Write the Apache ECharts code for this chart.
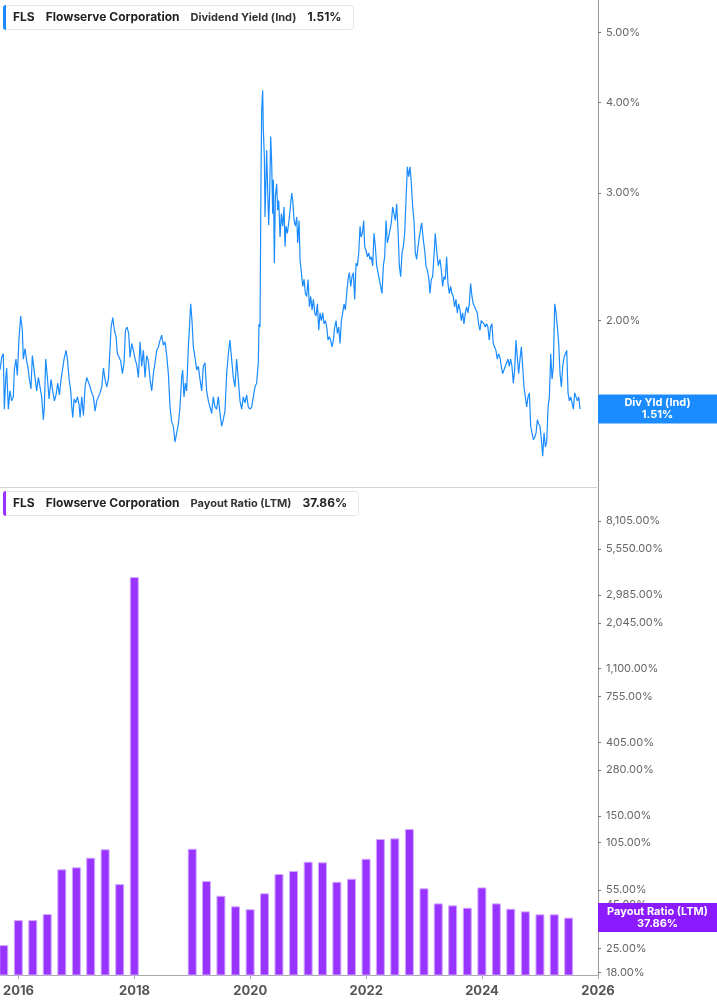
<!DOCTYPE html>
<html><head><meta charset="utf-8">
<script src="https://cdn.jsdelivr.net/npm/echarts@6/dist/echarts.min.js"></script>
<style>html,body{margin:0;padding:0;background:#fff}#c{width:717px;height:1005px}</style>
</head><body><div id="c"></div>
<script>
const ticker = 'FLS', company = 'Flowserve Corporation';
const divLabel = 'Dividend Yield (Ind)', divShort = 'Div Yld (Ind)', divCurrent = 1.51;
const payLabel = 'Payout Ratio (LTM)', payCurrent = 37.86;

const divYears = [
2015.690,2015.719,2015.747,2015.765,2015.788,2015.805,2015.834,2015.862,2015.891,2015.920,
2015.937,2015.966,2015.989,2016.018,2016.046,2016.075,2016.092,2016.121,2016.150,2016.178,
2016.196,2016.224,2016.247,2016.265,2016.293,2016.322,2016.351,2016.380,2016.408,2016.437,
2016.454,2016.477,2016.506,2016.535,2016.569,2016.598,2016.627,2016.655,2016.684,2016.713,
2016.742,2016.770,2016.793,2016.828,2016.851,2016.880,2016.908,2016.926,2016.943,2016.966,
2016.995,2017.023,2017.052,2017.069,2017.098,2017.127,2017.155,2017.184,2017.213,2017.242,
2017.270,2017.299,2017.328,2017.357,2017.385,2017.414,2017.443,2017.472,2017.500,2017.529,
2017.558,2017.587,2017.604,2017.633,2017.661,2017.690,2017.713,2017.742,2017.770,2017.799,
2017.828,2017.851,2017.880,2017.908,2017.931,2017.960,2017.989,2018.018,2018.046,2018.075,
2018.104,2018.132,2018.161,2018.190,2018.219,2018.247,2018.276,2018.305,2018.334,2018.362,
2018.391,2018.420,2018.449,2018.477,2018.506,2018.535,2018.564,2018.592,2018.621,2018.650,
2018.678,2018.707,2018.736,2018.765,2018.793,2018.822,2018.839,2018.862,2018.885,2018.908,
2018.937,2018.954,2018.977,2019.000,2019.023,2019.052,2019.081,2019.110,2019.138,2019.167,
2019.196,2019.224,2019.253,2019.282,2019.311,2019.339,2019.368,2019.397,2019.426,2019.454,
2019.483,2019.512,2019.540,2019.569,2019.598,2019.627,2019.655,2019.684,2019.713,2019.742,
2019.770,2019.799,2019.828,2019.857,2019.885,2019.914,2019.943,2019.972,2020.000,2020.029,
2020.058,2020.087,2020.115,2020.144,
2020.156,2020.173,2020.184,2020.190,2020.202,2020.219,2020.230,2020.248,2020.259,2020.276,
2020.288,2020.305,2020.322,2020.339,2020.357,2020.374,2020.391,2020.403,2020.420,2020.437,
2020.460,2020.477,2020.495,2020.518,2020.541,2020.564,2020.587,2020.604,2020.621,2020.644,
2020.667,2020.690,2020.719,2020.736,2020.759,2020.782,2020.805,2020.822,2020.845,2020.862,
2020.885,2020.908,2020.931,2020.954,2020.977,2021.000,2021.023,2021.046,2021.069,2021.092,
2021.115,2021.138,2021.161,2021.184,2021.207,2021.230,2021.253,2021.276,2021.299,2021.322,
2021.345,2021.368,2021.391,2021.414,2021.437,2021.460,2021.483,2021.506,2021.529,2021.552,
2021.575,2021.598,2021.621,2021.644,2021.667,2021.690,2021.713,2021.736,2021.759,2021.782,
2021.805,2021.828,2021.851,2021.874,2021.897,2021.914,2021.937,2021.960,2021.977,2022.000,
2022.023,2022.046,2022.069,2022.092,2022.115,2022.138,2022.161,2022.184,2022.207,2022.230,
2022.253,2022.276,2022.299,2022.322,2022.345,2022.368,2022.391,2022.414,2022.437,2022.460,
2022.483,2022.506,2022.529,2022.552,2022.575,2022.598,2022.621,2022.644,2022.667,2022.690,
2022.713,2022.736,2022.759,2022.782,2022.805,2022.828,2022.851,2022.874,2022.897,2022.920,
2022.931,2022.960,2022.988,2023.017,2023.034,2023.057,2023.086,2023.103,2023.126,2023.149,
2023.172,2023.195,2023.218,2023.247,2023.276,2023.299,2023.322,2023.345,2023.368,2023.391,
2023.414,2023.437,2023.460,2023.483,2023.506,2023.529,2023.552,2023.575,2023.598,2023.621,
2023.644,2023.667,2023.690,2023.713,2023.736,2023.759,2023.782,2023.805,2023.828,2023.851,
2023.874,2023.897,2023.920,2023.943,2023.966,2023.988,2024.011,2024.034,2024.057,2024.080,
2024.103,2024.126,2024.149,2024.172,2024.195,2024.218,2024.241,2024.264,2024.287,2024.310,
2024.333,2024.356,2024.379,2024.402,2024.425,2024.448,2024.471,2024.494,2024.517,2024.540,
2024.563,2024.586,2024.609,2024.632,2024.655,2024.678,2024.701,2024.724,2024.747,2024.770,
2024.793,2024.816,2024.839,2024.862,2024.885,2024.908,2024.931,2024.954,2024.977,2025.000,
2025.023,2025.046,2025.069,2025.092,2025.115,2025.138,2025.161,2025.184,2025.207,2025.230,
2025.253,2025.276,2025.299,2025.322,2025.345,2025.368,2025.391,2025.414,2025.437,2025.460,
2025.483,2025.506,2025.529,2025.552,2025.575,2025.598,2025.621,2025.644,2025.667,2025.690
];
const divValues = [
1.71,1.78,1.80,1.51,1.66,1.72,1.51,1.60,1.55,1.57,
1.71,1.77,1.68,1.89,2.03,1.94,1.77,1.83,1.76,1.71,
1.66,1.61,1.79,1.78,1.67,1.60,1.67,1.68,1.57,1.46,
1.52,1.77,1.67,1.56,1.66,1.60,1.55,1.58,1.64,1.58,
1.66,1.72,1.77,1.82,1.77,1.66,1.60,1.52,1.47,1.56,
1.54,1.57,1.53,1.47,1.57,1.48,1.62,1.67,1.66,1.62,
1.59,1.57,1.50,1.55,1.55,1.59,1.62,1.72,1.66,1.62,
1.66,1.84,1.96,2.02,1.94,1.90,1.80,1.78,1.76,1.69,
1.75,1.94,1.96,1.92,1.78,1.86,1.82,1.77,1.74,1.67,
1.87,1.73,1.82,1.67,1.79,1.76,1.66,1.60,1.69,1.75,
1.82,1.84,1.88,1.91,1.85,1.87,1.79,1.69,1.52,1.45,
1.43,1.36,1.40,1.44,1.52,1.67,1.71,1.57,1.64,1.60,
1.84,1.94,2.11,2.00,1.84,1.78,1.71,1.73,1.66,1.60,
1.73,1.75,1.60,1.55,1.52,1.49,1.57,1.52,1.51,1.57,
1.49,1.43,1.46,1.50,1.69,1.80,1.88,1.77,1.67,1.62,
1.77,1.66,1.55,1.51,1.57,1.54,1.58,1.52,1.51,1.52,
1.57,1.62,1.64,1.75,
1.98,1.96,2.64,3.13,3.91,4.16,3.67,3.37,2.78,3.13,
3.44,3.03,2.71,3.00,3.59,3.30,2.81,3.13,2.40,2.97,
3.09,2.84,2.93,2.61,2.81,2.70,2.87,2.53,2.70,2.64,
2.73,2.84,3.00,2.93,2.75,2.70,2.78,2.56,2.75,2.43,
2.33,2.23,2.28,2.18,2.16,2.28,2.09,2.16,2.07,2.14,
2.05,2.03,2.11,1.94,2.05,2.00,2.05,1.98,2.00,1.96,
1.88,1.90,1.88,1.84,1.88,1.96,2.00,1.92,1.96,1.86,
2.00,2.05,2.11,2.07,2.18,2.28,2.33,2.23,2.30,2.33,
2.14,2.40,2.38,2.48,2.70,2.61,2.64,2.75,2.53,2.50,
2.45,2.48,2.43,2.45,2.38,2.64,2.53,2.38,2.33,2.28,
2.23,2.18,2.38,2.45,2.75,2.56,2.61,2.67,2.73,2.87,
2.81,2.75,2.90,2.67,2.38,2.30,2.48,2.53,2.64,2.93,
3.26,3.16,3.26,3.09,2.87,2.75,2.48,2.43,2.53,2.61,
2.61,2.73,2.59,2.48,2.38,2.35,2.28,2.18,2.28,2.30,
2.45,2.64,2.50,2.38,2.43,2.35,2.23,2.30,2.28,2.45,
2.25,2.18,2.23,2.18,2.16,2.09,2.14,2.05,2.11,2.07,
2.00,2.05,1.98,2.05,2.09,2.05,2.11,2.25,2.16,2.11,
2.09,2.07,2.05,1.98,1.94,2.00,2.00,1.98,1.96,1.98,
1.96,1.88,1.96,1.98,1.86,1.84,1.82,1.77,1.80,1.78,
1.73,1.69,1.71,1.73,1.75,1.77,1.73,1.77,1.73,1.64,
1.71,1.88,1.78,1.69,1.77,1.84,1.73,1.62,1.57,1.52,
1.57,1.59,1.43,1.40,1.37,1.38,1.40,1.46,1.44,1.43,
1.37,1.30,1.40,1.34,1.36,1.52,1.57,1.80,1.66,1.73,
2.11,2.05,1.96,1.86,1.69,1.62,1.73,1.78,1.80,1.82,
1.59,1.55,1.57,1.54,1.51,1.59,1.60,1.55,1.57,1.51
];
const payDates = ['2015-09-30','2015-12-31','2016-03-31','2016-06-30','2016-09-30','2016-12-31','2017-03-31','2017-06-30','2017-09-30','2017-12-31','2018-03-31','2018-06-30','2018-09-30','2018-12-31','2019-03-31','2019-06-30','2019-09-30','2019-12-31','2020-03-31','2020-06-30','2020-09-30','2020-12-31','2021-03-31','2021-06-30','2021-09-30','2021-12-31','2022-03-31','2022-06-30','2022-09-30','2022-12-31','2023-03-31','2023-06-30','2023-09-30','2023-12-31','2024-03-31','2024-06-30','2024-09-30','2024-12-31','2025-03-31','2025-06-30'];
const payValues = [26.1,36.6,36.6,39.7,72.8,74.8,85.2,95.4,59.6,3806,null,null,null,96.2,62.1,50.9,44.1,42.4,52.6,68.3,71.1,80.7,80.0,61.5,64.1,84.0,109.7,110.7,125.6,56.3,45.9,44.7,43.3,57.0,45.9,42.7,41.2,39.6,39.6,37.86];
const yearTicks = [2016,2018,2020,2022,2024,2026];
const divTicks = [2,3,4,5];
const payTicks = [18,25,45,55,105,150,280,405,755,1100,2045,2985,5550,8105];

function yearToTime(y){
  const yr = Math.floor(y);
  const s = new Date(yr,0,1).getTime(), e = new Date(yr+1,0,1).getTime();
  return s + (y-yr)*(e-s);
}
function dateToTime(str){
  const p = str.split('-').map(Number);
  return new Date(p[0], p[1]-1, p[2]).getTime();
}
const FONT = 'Inter';
const BLUE = '#1a8cff', PURPLE = '#9933ff';
const tMin = yearToTime(2015.69), tMax = yearToTime(2026);
const yearTickTimes = yearTicks.map(y => new Date(y,0,1).getTime());

function legendTitle(top, color, label, valText){
  return {
    left: 3, top: top, padding: [0, 12, 0, 0],
    backgroundColor: '#fff', borderColor: '#e4e4e4', borderWidth: 1, borderRadius: 3,
    text: `{s|}{g|}{b|${ticker}}{w|}{b|${company}}{w|}{n|${label}}{w|}{b|${valText}}`,
    textStyle: { rich: {
      s: { width: 3, height: 25, backgroundColor: color, borderRadius: [3,0,0,3] },
      g: { width: 7 },
      w: { width: 11 },
      b: { fontFamily: FONT, fontSize: 12, fontWeight: 'bold', color: '#222' },
      n: { fontFamily: FONT, fontSize: 11, color: '#333' }
    } }
  };
}
function fmtPct(v){
  return Number(v).toLocaleString('en-US', {minimumFractionDigits: 2, maximumFractionDigits: 2}) + '%';
}
function endLabel(text, bg){
  return {
    show: true, position: 'end', distance: 59.5, align: 'center', verticalAlign: 'middle',
    formatter: text, color: '#fff', opacity: 1, fontFamily: FONT, fontWeight: 'bold', fontSize: 11, lineHeight: 12,
    backgroundColor: bg, width: 119, padding: [3, 0, 2, 0]
  };
}

const chart = echarts.init(document.getElementById('c'));
chart.setOption({
  animation: false,
  textStyle: { fontFamily: FONT },
  title: [
    legendTitle(5, BLUE, divLabel, divCurrent.toFixed(2) + '%'),
    legendTitle(491, PURPLE, payLabel, payCurrent.toFixed(2) + '%')
  ],
  grid: [
    { left: 0, right: 119, top: 0, height: 487 },
    { left: 0, right: 119, top: 488, height: 487 }
  ],
  xAxis: [
    { type: 'value', gridIndex: 0, min: tMin, max: tMax, scale: true,
      axisLine: { show: true, onZero: false, lineStyle: { color: '#d4d4d4' } }, axisTick: { show: false },
      axisLabel: { show: false }, splitLine: { show: false } },
    { type: 'value', gridIndex: 1, min: tMin, max: tMax, scale: true,
      axisLine: { show: true, onZero: false, lineStyle: { color: '#aaa' } },
      axisTick: { show: true, length: 4, lineStyle: { color: '#aaa' }, customValues: yearTickTimes },
      axisLabel: { customValues: yearTickTimes, formatter: v => String(new Date(v).getFullYear()),
        color: '#555', fontWeight: 'bold', fontSize: 13, margin: 10, fontFamily: FONT },
      splitLine: { show: false } }
  ],
  yAxis: [
    { type: 'log', gridIndex: 0, position: 'right', min: 1.179, max: 5.54,
      axisLine: { show: true, lineStyle: { color: '#999' } },
      axisTick: { show: true, length: 3, customValues: divTicks, lineStyle: { color: '#777' } },
      axisLabel: { customValues: divTicks, formatter: v => fmtPct(v), color: '#666', fontSize: 11, margin: 8, fontFamily: FONT },
      splitLine: { show: false }, minorTick: { show: false } },
    { type: 'log', gridIndex: 1, position: 'right', min: 17.41, max: 12700,
      axisLine: { show: true, lineStyle: { color: '#999' } },
      axisTick: { show: true, length: 3, customValues: payTicks, lineStyle: { color: '#777' } },
      axisLabel: { customValues: payTicks, formatter: v => fmtPct(v), color: '#666', fontSize: 11, margin: 8, fontFamily: FONT },
      splitLine: { show: false }, minorTick: { show: false } }
  ],
  series: [
    { type: 'line', xAxisIndex: 0, yAxisIndex: 0, showSymbol: false, z: 3,
      lineStyle: { color: BLUE, width: 1.2 },
      data: divYears.map((y, i) => [yearToTime(y), divValues[i]]),
      markLine: { silent: true, symbol: 'none', animation: false, z: 10,
        lineStyle: { color: 'rgba(0,0,0,0)', width: 1, type: 'solid' },
        label: endLabel(divShort + '\n' + divCurrent.toFixed(2) + '%', BLUE),
        emphasis: { disabled: true },
        data: [{ yAxis: divCurrent }] } },
    { type: 'bar', xAxisIndex: 1, yAxisIndex: 1, barWidth: 9,
      itemStyle: { color: PURPLE, borderColor: '#d2aaff', borderWidth: 1 },
      data: payDates.map((d, i) => [dateToTime(d), payValues[i] == null ? '-' : payValues[i]]),
      markLine: { silent: true, symbol: 'none', animation: false, z: 10,
        lineStyle: { color: 'rgba(0,0,0,0)', width: 1, type: 'solid' },
        label: endLabel(payLabel + '\n' + payCurrent.toFixed(2) + '%', '#8c1aff'),
        emphasis: { disabled: true },
        data: [{ yAxis: payCurrent }] } }
  ]
});
</script></body></html>
